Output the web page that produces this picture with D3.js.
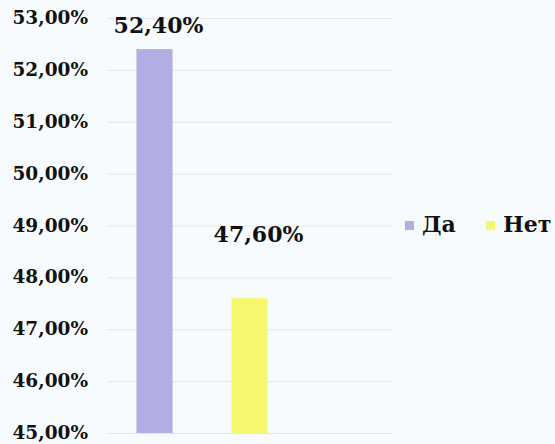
<!DOCTYPE html>
<html>
<head>
<meta charset="utf-8">
<script src="https://cdn.jsdelivr.net/npm/d3@7"></script>
<style>
  html, body { margin:0; padding:0; background:#f7fbfd; }
  svg text { font-family:"DejaVu Serif", Georgia, serif; font-weight:bold; fill:#111; }
</style>
</head>
<body>
<div id="plot"></div>
<script>
var categories = ['Да', 'Нет'];
var values = [52.4, 47.6];
var labels = ['52,40%', '47,60%'];
var colors = ['#b0aee2', '#f5f86e'];
var ticks = [45, 46, 47, 48, 49, 50, 51, 52, 53];

var w = 555, h = 444;

var svg = d3.select('#plot').append('svg')
    .attr('width', w)
    .attr('height', h);

var y = d3.scaleLinear()
    .domain([45, 53])
    .range([433, 18]);

// 3 slots, third one empty (gridlines run past the bars)
var x = d3.scaleBand()
    .domain(categories.concat(['']))
    .range([107, 392])
    .paddingInner(0.62)
    .paddingOuter(0.31);

// gridlines
svg.append('g')
    .selectAll('line')
    .data(ticks)
    .enter()
    .append('line')
    .attr('x1', 107)
    .attr('x2', 392)
    .attr('y1', function(d){ return y(d) + 0.5; })
    .attr('y2', function(d){ return y(d) + 0.5; })
    .style('stroke', '#e0e6ee')
    .style('stroke-width', 1);

// y tick labels
var fmt = function(d){ return d.toFixed(2).replace('.', ',') + '%'; };
svg.append('g')
    .selectAll('text')
    .data(ticks)
    .enter()
    .append('text')
    .attr('x', 88)
    .attr('y', function(d){ return y(d) + 6; })
    .attr('text-anchor', 'end')
    .style('font-size', '18.5px')
    .text(fmt);

// bars
svg.append('g')
    .selectAll('rect')
    .data(values)
    .enter()
    .append('rect')
    .attr('x', function(d, i){ return x(categories[i]); })
    .attr('y', function(d){ return y(d); })
    .attr('width', x.bandwidth())
    .attr('height', function(d){ return y(45) - y(d); })
    .style('fill', function(d, i){ return colors[i]; });

// data labels (Excel put the second one well above its bar)
var labelLift = [16, 56];
var labelShift = [4, 9];
svg.append('g')
    .selectAll('text')
    .data(values)
    .enter()
    .append('text')
    .attr('x', function(d, i){ return x(categories[i]) + x.bandwidth() / 2 + labelShift[i]; })
    .attr('y', function(d, i){ return y(d) - labelLift[i]; })
    .attr('text-anchor', 'middle')
    .style('font-size', '22px')
    .text(function(d, i){ return labels[i]; });

// legend
var legend = svg.append('g')
    .attr('transform', 'translate(405,225)');
var lx = [0, 81];
var item = legend.selectAll('g')
    .data(categories)
    .enter()
    .append('g')
    .attr('transform', function(d, i){ return 'translate(' + lx[i] + ',0)'; });
item.append('rect')
    .attr('x', 0)
    .attr('y', -4)
    .attr('width', 9)
    .attr('height', 9)
    .style('fill', function(d, i){ return colors[i]; });
item.append('text')
    .attr('x', 17)
    .attr('y', 7)
    .style('font-size', '22px')
    .text(function(d){ return d; });
</script>
</body>
</html>
